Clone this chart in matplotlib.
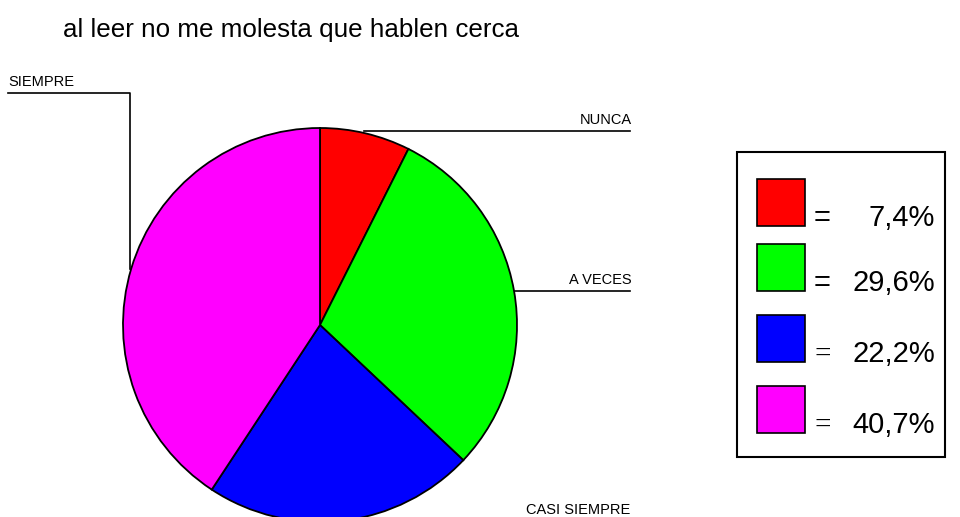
import matplotlib.pyplot as plt
import matplotlib.patches as patches

# data
title = "al leer no me molesta que hablen cerca"
categories = ["NUNCA", "A VECES", "CASI SIEMPRE", "SIEMPRE"]
values = [7.4, 29.6, 22.2, 40.7]
colors = ["#FF0000", "#00FF00", "#0000FF", "#FF00FF"]

W, H = 960, 517


def fy(py):
    # pixel row (from top) -> data y (from bottom)
    return H - py


fig = plt.figure(figsize=(W / 100, H / 100), dpi=100)
ax = fig.add_axes([0, 0, 1, 1])
plt.rcParams['font.family'] = ['Liberation Sans', 'DejaVu Sans']

# pie
cx, cy, r = 320, 325, 197
ax.pie(values, colors=colors, startangle=90, counterclock=False,
       center=(cx, fy(cy)), radius=r, frame=True,
       wedgeprops=dict(edgecolor="black", linewidth=1.3))
ax.set_xlim(0, W)
ax.set_ylim(0, H)
ax.set_aspect("equal")
ax.axis("off")

# title
ax.text(63, fy(37), title, fontsize=18.7, ha="left", va="baseline")

# slice labels with leader lines
ax.plot([8, 130, 130], [fy(93), fy(93), fy(269)], color="black", lw=1.2)
ax.text(8, fy(86), categories[3], fontsize=10.5, ha="left", va="baseline")

ax.plot([364, 630], [fy(131), fy(131)], color="black", lw=1.2)
ax.text(632, fy(124), categories[0], fontsize=10.5, ha="right", va="baseline")

ax.plot([515, 630], [fy(291), fy(291)], color="black", lw=1.2)
ax.text(632, fy(284), categories[1], fontsize=10.5, ha="right", va="baseline")

ax.text(526, fy(514), categories[2], fontsize=10.5, ha="left", va="baseline")

# legend box
ax.add_patch(patches.Rectangle((737, fy(457)), 208, 305, fc="white",
                               ec="black", lw=1.5))
row_tops = [179, 244, 315, 386]
eq_fonts = ["Liberation Sans", "Liberation Sans", "Liberation Serif", "Liberation Serif"]
for i, (val, col) in enumerate(zip(values, colors)):
    top = row_tops[i]
    ax.add_patch(patches.Rectangle((757, fy(top + 47)), 48, 47, fc=col,
                                   ec="black", lw=1.2))
    ax.text(814, fy(top + 47), "=", fontsize=21, family=eq_fonts[i],
            ha="left", va="baseline")
    ax.text(935, fy(top + 47), "{:.1f}%".format(val).replace(".", ","),
            fontsize=21, ha="right", va="baseline")

fig.savefig("out.png", dpi=100)
